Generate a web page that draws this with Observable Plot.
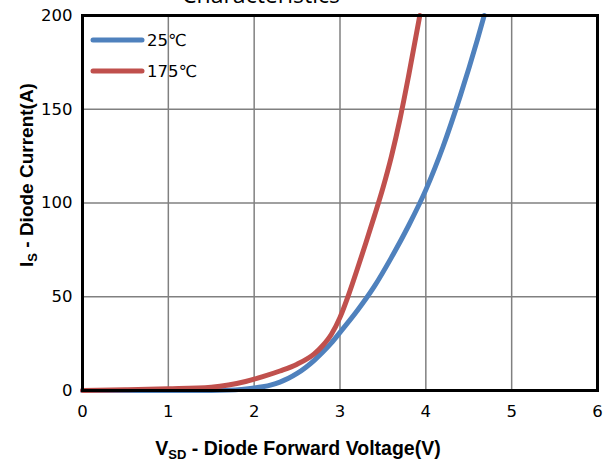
<!DOCTYPE html>
<html>
<head>
<meta charset="utf-8">
<script src="https://cdn.jsdelivr.net/npm/d3@7"></script>
<script src="https://cdn.jsdelivr.net/npm/@observablehq/plot@0.6"></script>
<style>
  html, body { margin: 0; padding: 0; background: #fff; }
  #chart { width: 607px; height: 462px; overflow: hidden; }
</style>
</head>
<body>
<div id="chart"></div>
<script>
// Data
const seriesNames = ["25℃", "175℃"];
const seriesColors = ["#4F81BD", "#C0504D"];

const v25 = [0, 1.0, 1.5, 1.7, 1.85, 2.0, 2.1, 2.2, 2.3, 2.4, 2.5, 2.6,  2.7,  2.8,  2.9,  3.0, 3.2,  3.4,  3.6, 3.8, 4.0, 4.2, 4.4, 4.6, 4.68];
const i25 = [0, 0,   0,   0.2, 0.6,  1.3, 2.0, 3.0, 4.5, 6.5, 9.1, 12.3, 16.1, 20.5, 25.4, 31,  42.5, 55.5, 71,  88,  107, 130, 157, 187, 200];

const v175 = [0, 0.5, 1.0, 1.5, 1.7, 1.9, 2.1, 2.3,  2.5,  2.7,  2.8, 2.9, 3.0, 3.1, 3.2,  3.3, 3.4, 3.5, 3.6, 3.7, 3.8, 3.93];
const i175 = [0, 0.4, 0.9, 1.8, 2.9, 4.8, 7.4, 10.4, 14,   19.5, 24,  30,  39,  51,  64.5, 78.5, 93, 108, 125, 145, 168, 200];

const xTicks = [0, 1, 2, 3, 4, 5, 6];
const yTicks = [0, 50, 100, 150, 200];

const titleText = "Characteristics";
const xLabelMain = "V";
const xLabelSub = "SD";
const xLabelRest = " - Diode Forward Voltage(V)";
const yLabelMain = "I";
const yLabelSub = "S";
const yLabelRest = " - Diode Current(A)";

const rows = [
  ...v25.map((v, k) => ({series: seriesNames[0], v, i: i25[k]})),
  ...v175.map((v, k) => ({series: seriesNames[1], v, i: i175[k]}))
];

const chart = Plot.plot({
  width: 607,
  height: 462,
  marginLeft: 82,
  marginRight: 10,
  marginTop: 15,
  marginBottom: 72,
  style: {background: "#fff", overflow: "visible"},
  x: {domain: [0, 6], label: null},
  y: {domain: [0, 200], label: null},
  color: {domain: seriesNames, range: seriesColors},
  marks: [
    Plot.gridX(xTicks, {stroke: "#808080", strokeOpacity: 1, strokeWidth: 1.5}),
    Plot.gridY(yTicks, {stroke: "#808080", strokeOpacity: 1, strokeWidth: 1.5}),
    Plot.line(rows, {x: "v", y: "i", z: "series", stroke: "series", strokeWidth: 5, curve: "monotone-x"}),
    Plot.frame({stroke: "#000", strokeWidth: 3}),
    Plot.axisX(xTicks, {tickSize: 0, tickPadding: 15, fontSize: 16.5, fontFamily: "DejaVu Sans", fill: "#000", label: null}),
    Plot.axisY(yTicks, {tickSize: 0, tickPadding: 10, fontSize: 16.5, fontFamily: "DejaVu Sans", fill: "#000", label: null})
  ]
});

document.getElementById("chart").appendChild(chart);

const svg = d3.select(chart);

// Title (cut off at the top in the reference)
svg.append("text")
  .attr("x", 261).attr("y", 3)
  .attr("text-anchor", "middle")
  .attr("font-family", "Open Sans")
  .attr("font-size", 23)
  .attr("fill", "#000")
  .text(titleText);

// X axis title
const xt = svg.append("text")
  .attr("x", 298).attr("y", 455)
  .attr("text-anchor", "middle")
  .attr("font-family", "Liberation Sans")
  .attr("font-weight", "bold")
  .attr("font-size", 19.5)
  .attr("fill", "#000");
xt.append("tspan").text(xLabelMain);
xt.append("tspan").attr("font-size", 13).attr("dy", 4).text(xLabelSub);
xt.append("tspan").attr("dy", -4).text(xLabelRest);

// Y axis title
const yt = svg.append("text")
  .attr("transform", "translate(33,175) rotate(-90)")
  .attr("text-anchor", "middle")
  .attr("font-family", "Liberation Sans")
  .attr("font-weight", "bold")
  .attr("font-size", 19)
  .attr("fill", "#000");
yt.append("tspan").text(yLabelMain);
yt.append("tspan").attr("font-size", 13).attr("dy", 4).text(yLabelSub);
yt.append("tspan").attr("dy", -4).text(yLabelRest);

// Legend
const legend = svg.append("g");
seriesNames.forEach((name, k) => {
  const y = 40 + k * 31;
  legend.append("line")
    .attr("x1", 93).attr("x2", 142).attr("y1", y).attr("y2", y)
    .attr("stroke", seriesColors[k]).attr("stroke-width", 5)
    .attr("stroke-linecap", "round");
  legend.append("text")
    .attr("x", 147).attr("y", y + 6)
    .attr("text-anchor", "start")
    .attr("font-family", "DejaVu Sans")
    .attr("font-size", 16.5)
    .attr("fill", "#000")
    .text(name);
});
</script>
</body>
</html>
